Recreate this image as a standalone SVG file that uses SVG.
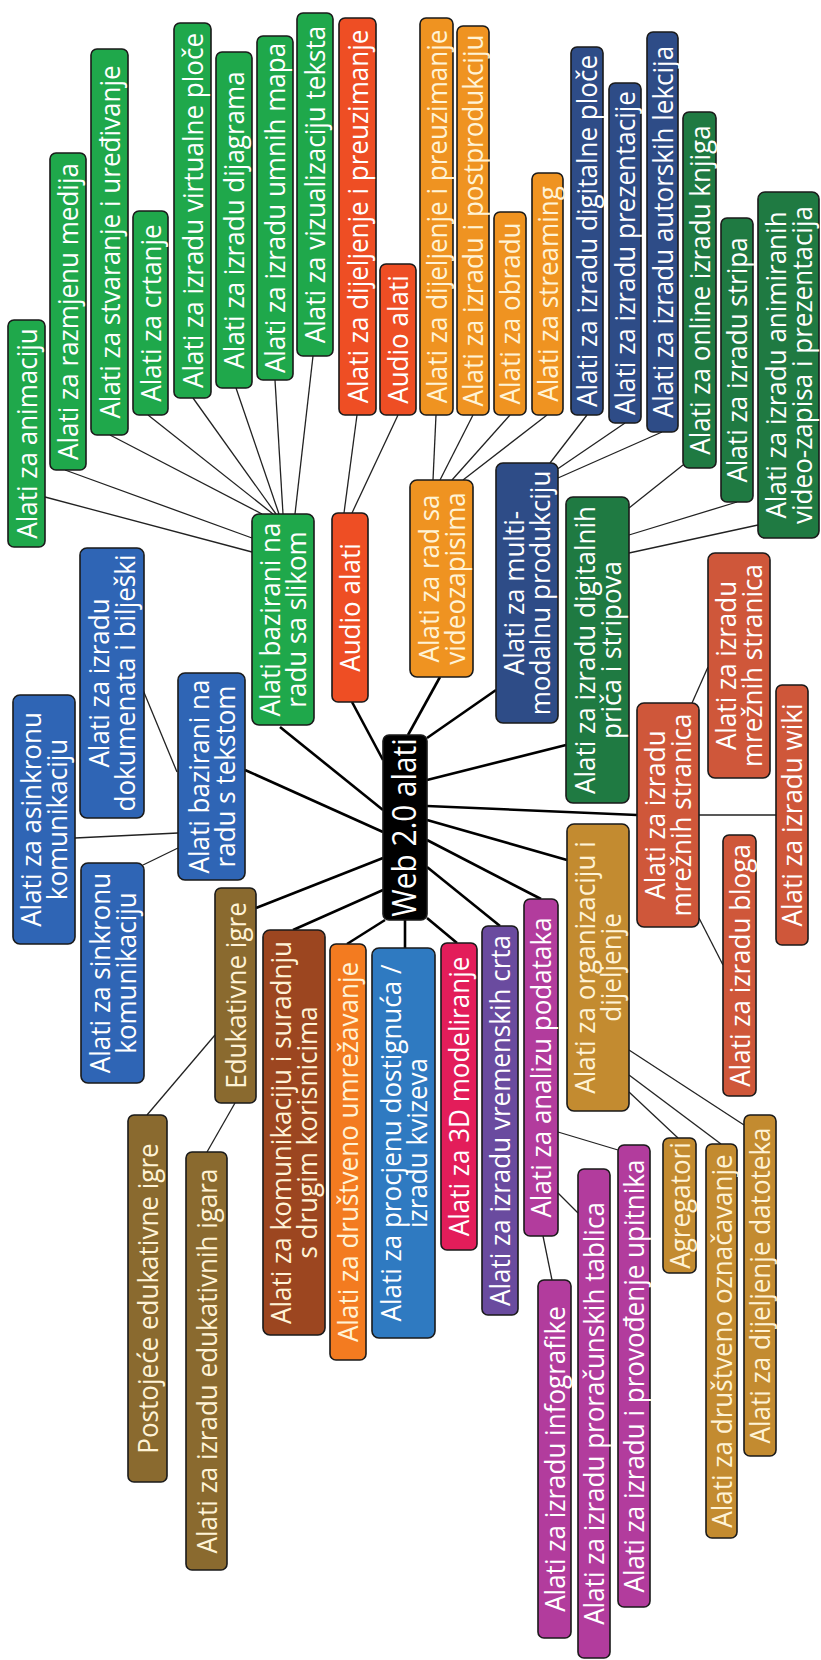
<svg xmlns="http://www.w3.org/2000/svg" width="821" height="1660" viewBox="0 0 821 1660">
<style>
rect{stroke:#1a1a1a;stroke-width:1.6}
text{font-family:"Open Sans","Noto Sans",sans-serif;font-size:28px;fill:#fff;text-anchor:middle}
.cr{fill:#fff3d6}
.g{fill:#1fa84b}.r{fill:#ee4e24}.o{fill:#ef9321}.nv{fill:#2e4c87}.dg{fill:#1f7a42}
.ru{fill:#cf573a}.gd{fill:#c38b30}.mg{fill:#b23c9d}.pu{fill:#6a4b9f}.pk{fill:#e31d5a}
.bl{fill:#2f7ac1}.or{fill:#f37b20}.br{fill:#9c4620}.ol{fill:#8a6a2f}.tb{fill:#2f65b5}.bk{fill:#000}
.m line{stroke:#000;stroke-width:2.6}
.s line{stroke:#222;stroke-width:1.3}
</style>
<g id="connectors">
<g class="m">
<line x1="383" y1="810" x2="280" y2="727"/>
<line x1="383" y1="832" x2="245" y2="770"/>
<line x1="383" y1="760" x2="352" y2="702"/>
<line x1="408" y1="735" x2="440" y2="677"/>
<line x1="427" y1="738" x2="496" y2="690"/>
<line x1="427" y1="780" x2="566" y2="745"/>
<line x1="427" y1="806" x2="637" y2="815"/>
<line x1="427" y1="820" x2="567" y2="860"/>
<line x1="427" y1="840" x2="541" y2="899"/>
<line x1="427" y1="867" x2="500" y2="926"/>
<line x1="427" y1="918" x2="457" y2="943"/>
<line x1="405" y1="920" x2="405" y2="948"/>
<line x1="385" y1="920" x2="347" y2="944"/>
<line x1="383" y1="890" x2="293" y2="930"/>
<line x1="383" y1="858" x2="256" y2="908"/>
</g>
<g class="s">
<line x1="45" y1="497" x2="252" y2="552"/>
<line x1="65" y1="470" x2="252" y2="538"/>
<line x1="110" y1="435" x2="262" y2="514"/>
<line x1="148" y1="415" x2="273" y2="514"/>
<line x1="193" y1="398" x2="276" y2="514"/>
<line x1="236" y1="388" x2="279" y2="514"/>
<line x1="275" y1="380" x2="283" y2="514"/>
<line x1="313" y1="356" x2="295" y2="514"/>
<line x1="357" y1="415" x2="344" y2="513"/>
<line x1="398" y1="415" x2="352" y2="513"/>
<line x1="436" y1="415" x2="433" y2="480"/>
<line x1="473" y1="415" x2="440" y2="480"/>
<line x1="510" y1="415" x2="452" y2="480"/>
<line x1="547" y1="415" x2="463" y2="480"/>
<line x1="587" y1="415" x2="550" y2="463"/>
<line x1="625" y1="423" x2="556" y2="470"/>
<line x1="662" y1="432" x2="558" y2="478"/>
<line x1="683" y1="465" x2="629" y2="508"/>
<line x1="737" y1="502" x2="629" y2="535"/>
<line x1="758" y1="525" x2="629" y2="553"/>
<line x1="692" y1="703" x2="708" y2="667"/>
<line x1="699" y1="815" x2="776" y2="815"/>
<line x1="699" y1="918" x2="723" y2="965"/>
<line x1="629" y1="1050" x2="744" y2="1125"/>
<line x1="629" y1="1075" x2="721" y2="1144"/>
<line x1="629" y1="1092" x2="678" y2="1138"/>
<line x1="558" y1="1132" x2="618" y2="1150"/>
<line x1="558" y1="1193" x2="578" y2="1213"/>
<line x1="543" y1="1236" x2="552" y2="1280"/>
<line x1="177" y1="772" x2="143" y2="690"/>
<line x1="178" y1="833" x2="75" y2="838"/>
<line x1="178" y1="848" x2="143" y2="865"/>
<line x1="215" y1="1035" x2="147" y2="1115"/>
<line x1="235" y1="1103" x2="207" y2="1152"/>
</g>
</g>

<g id="n_anim"><rect class="g" x="8" y="320" width="37" height="227" rx="6"/><text transform="translate(26.5,433.5) rotate(-90) scale(0.93,1)"><tspan x="0" y="10">Alati za animaciju</tspan></text></g>
<g id="n_razm"><rect class="g" x="50" y="153" width="36" height="317" rx="6"/><text transform="translate(68,311.5) rotate(-90) scale(0.93,1)"><tspan x="0" y="10">Alati za razmjenu medija</tspan></text></g>
<g id="n_stvar"><rect class="g" x="91" y="49" width="37" height="386" rx="6"/><text transform="translate(109.5,242) rotate(-90) scale(0.93,1)"><tspan x="0" y="10">Alati za stvaranje i uređivanje</tspan></text></g>
<g id="n_crt"><rect class="g" x="133" y="211" width="35" height="204" rx="6"/><text transform="translate(150.5,313) rotate(-90) scale(0.93,1)"><tspan x="0" y="10">Alati za crtanje</tspan></text></g>
<g id="n_virt"><rect class="g" x="174" y="23" width="37" height="375" rx="6"/><text transform="translate(192.5,210.5) rotate(-90) scale(0.93,1)"><tspan x="0" y="10">Alati za izradu virtualne ploče</tspan></text></g>
<g id="n_dijag"><rect class="g" x="216" y="52" width="36" height="336" rx="6"/><text transform="translate(234,220) rotate(-90) scale(0.93,1)"><tspan x="0" y="10">Alati za izradu dijagrama</tspan></text></g>
<g id="n_umne"><rect class="g" x="257" y="36" width="36" height="344" rx="6"/><text transform="translate(275,208) rotate(-90) scale(0.93,1)"><tspan x="0" y="10">Alati za izradu umnih mapa</tspan></text></g>
<g id="n_vizual"><rect class="g" x="297" y="13" width="36" height="343" rx="6"/><text transform="translate(315,184.5) rotate(-90) scale(0.93,1)"><tspan x="0" y="10">Alati za vizualizaciju teksta</tspan></text></g>
<g id="n_slika"><rect class="g" x="252" y="514" width="62" height="211" rx="7"/><text transform="translate(283,619.5) rotate(-90) scale(0.93,1)"><tspan x="0" y="-3">Alati bazirani na</tspan><tspan x="0" y="23">radu sa slikom</tspan></text></g>

<g id="n_audio_dij"><rect class="r" x="339" y="18" width="37" height="397" rx="6"/><text transform="translate(357.5,216.5) rotate(-90) scale(0.93,1)"><tspan x="0" y="10">Alati za dijeljenje i preuzimanje</tspan></text></g>
<g id="n_audio_al"><rect class="r" x="380" y="264" width="36" height="151" rx="6"/><text transform="translate(398,339.5) rotate(-90) scale(0.93,1)"><tspan x="0" y="10">Audio alati</tspan></text></g>
<g id="n_audio"><rect class="r" x="332" y="513" width="36" height="189" rx="6"/><text transform="translate(350,607.5) rotate(-90) scale(0.93,1)"><tspan x="0" y="10">Audio alati</tspan></text></g>

<g id="n_vid_dij"><rect class="o" x="420" y="18" width="33" height="397" rx="6"/><text class="cr" transform="translate(436.5,216.5) rotate(-90) scale(0.93,1)"><tspan x="0" y="10">Alati za dijeljenje i preuzimanje</tspan></text></g>
<g id="n_vid_post"><rect class="o" x="457" y="26" width="32" height="389" rx="6"/><text class="cr" transform="translate(473,220.5) rotate(-90) scale(0.93,1)"><tspan x="0" y="10">Alati za izradu i postprodukciju</tspan></text></g>
<g id="n_vid_obr"><rect class="o" x="494" y="212" width="32" height="203" rx="6"/><text class="cr" transform="translate(510,313.5) rotate(-90) scale(0.93,1)"><tspan x="0" y="10">Alati za obradu</tspan></text></g>
<g id="n_vid_str"><rect class="o" x="532" y="173" width="31" height="242" rx="6"/><text class="cr" transform="translate(547.5,294) rotate(-90) scale(0.93,1)"><tspan x="0" y="10">Alati za streaming</tspan></text></g>
<g id="n_video"><rect class="o" x="410" y="480" width="63" height="197" rx="7"/><text class="cr" transform="translate(441.5,578.5) rotate(-90) scale(0.93,1)"><tspan x="0" y="-3">Alati za rad sa</tspan><tspan x="0" y="23">videozapisima</tspan></text></g>

<g id="n_mm_ploce"><rect class="nv" x="571" y="47" width="32" height="368" rx="6"/><text transform="translate(587,231) rotate(-90) scale(0.93,1)"><tspan x="0" y="10">Alati za izradu digitalne ploče</tspan></text></g>
<g id="n_mm_prez"><rect class="nv" x="609" y="83" width="32" height="340" rx="6"/><text transform="translate(625,253) rotate(-90) scale(0.93,1)"><tspan x="0" y="10">Alati za izradu prezentacije</tspan></text></g>
<g id="n_mm_lek"><rect class="nv" x="647" y="32" width="31" height="400" rx="6"/><text transform="translate(662.5,232) rotate(-90) scale(0.93,1)"><tspan x="0" y="10">Alati za izradu autorskih lekcija</tspan></text></g>
<g id="n_multi"><rect class="nv" x="496" y="463" width="62" height="260" rx="7"/><text transform="translate(527,593) rotate(-90) scale(0.93,1)"><tspan x="0" y="-3">Alati za multi-</tspan><tspan x="0" y="23">modalnu produkciju</tspan></text></g>

<g id="n_knjiga"><rect class="dg" x="683" y="112" width="33" height="356" rx="6"/><text transform="translate(699.5,290) rotate(-90) scale(0.93,1)"><tspan x="0" y="10">Alati za online izradu knjiga</tspan></text></g>
<g id="n_stripa"><rect class="dg" x="721" y="218" width="32" height="284" rx="6"/><text transform="translate(737,360) rotate(-90) scale(0.93,1)"><tspan x="0" y="10">Alati za izradu stripa</tspan></text></g>
<g id="n_anim_vid"><rect class="dg" x="758" y="192" width="61" height="346" rx="7"/><text transform="translate(788.5,365) rotate(-90) scale(0.93,1)"><tspan x="0" y="-3">Alati za izradu animiranih</tspan><tspan x="0" y="23">video-zapisa i prezentacija</tspan></text></g>
<g id="n_price"><rect class="dg" x="566" y="497" width="63" height="306" rx="7"/><text transform="translate(597.5,650) rotate(-90) scale(0.93,1)"><tspan x="0" y="-3">Alati za izradu digitalnih</tspan><tspan x="0" y="23">priča i stripova</tspan></text></g>

<g id="n_web_child"><rect class="ru" x="708" y="553" width="62" height="225" rx="7"/><text transform="translate(739,665.5) rotate(-90) scale(0.93,1)"><tspan x="0" y="-3">Alati za izradu</tspan><tspan x="0" y="23">mrežnih stranica</tspan></text></g>
<g id="n_wiki"><rect class="ru" x="776" y="685" width="32" height="260" rx="6"/><text transform="translate(792,815) rotate(-90) scale(0.93,1)"><tspan x="0" y="10">Alati za izradu wiki</tspan></text></g>
<g id="n_web"><rect class="ru" x="637" y="703" width="62" height="224" rx="7"/><text transform="translate(668,815) rotate(-90) scale(0.93,1)"><tspan x="0" y="-3">Alati za izradu</tspan><tspan x="0" y="23">mrežnih stranica</tspan></text></g>
<g id="n_blog"><rect class="ru" x="723" y="835" width="33" height="261" rx="6"/><text transform="translate(739.5,965.5) rotate(-90) scale(0.93,1)"><tspan x="0" y="10">Alati za izradu bloga</tspan></text></g>

<g id="n_org"><rect class="gd" x="567" y="824" width="62" height="287" rx="7"/><text class="cr" transform="translate(598,967.5) rotate(-90) scale(0.93,1)"><tspan x="0" y="-3">Alati za organizaciju i</tspan><tspan x="0" y="23">dijeljenje</tspan></text></g>
<g id="n_agreg"><rect class="gd" x="663" y="1138" width="33" height="135" rx="6"/><text class="cr" transform="translate(679.5,1205.5) rotate(-90) scale(0.93,1)"><tspan x="0" y="10">Agregatori</tspan></text></g>
<g id="n_oznac"><rect class="gd" x="706" y="1144" width="31" height="394" rx="6"/><text class="cr" transform="translate(721.5,1341) rotate(-90) scale(0.93,1)"><tspan x="0" y="10">Alati za društveno označavanje</tspan></text></g>
<g id="n_datot"><rect class="gd" x="744" y="1115" width="32" height="341" rx="6"/><text class="cr" transform="translate(760,1285.5) rotate(-90) scale(0.93,1)"><tspan x="0" y="10">Alati za dijeljenje datoteka</tspan></text></g>

<g id="n_analiza"><rect class="mg" x="524" y="899" width="34" height="337" rx="6"/><text transform="translate(541,1067.5) rotate(-90) scale(0.93,1)"><tspan x="0" y="10">Alati za analizu podataka</tspan></text></g>
<g id="n_upit"><rect class="mg" x="618" y="1145" width="32" height="462" rx="6"/><text transform="translate(634,1376) rotate(-90) scale(0.93,1)"><tspan x="0" y="10">Alati za izradu i provođenje upitnika</tspan></text></g>
<g id="n_tabl"><rect class="mg" x="578" y="1169" width="32" height="489" rx="6"/><text transform="translate(594,1413.5) rotate(-90) scale(0.93,1)"><tspan x="0" y="10">Alati za izradu proračunskih tablica</tspan></text></g>
<g id="n_info"><rect class="mg" x="538" y="1280" width="33" height="358" rx="6"/><text transform="translate(554.5,1459) rotate(-90) scale(0.93,1)"><tspan x="0" y="10">Alati za izradu infografike</tspan></text></g>

<g id="n_vrem"><rect class="pu" x="482" y="926" width="36" height="389" rx="6"/><text transform="translate(500,1120.5) rotate(-90) scale(0.93,1)"><tspan x="0" y="10">Alati za izradu vremenskih crta</tspan></text></g>
<g id="n_3d"><rect class="pk" x="441" y="943" width="36" height="307" rx="6"/><text transform="translate(459,1096.5) rotate(-90) scale(0.93,1)"><tspan x="0" y="10">Alati za 3D modeliranje</tspan></text></g>
<g id="n_kviz"><rect class="bl" x="372" y="948" width="63" height="390" rx="7"/><text transform="translate(403.5,1143) rotate(-90) scale(0.93,1)"><tspan x="0" y="-3">Alati za procjenu dostignuća /</tspan><tspan x="0" y="23">izradu kvizeva</tspan></text></g>
<g id="n_drus"><rect class="or" x="330" y="944" width="36" height="416" rx="6"/><text class="cr" transform="translate(348,1152) rotate(-90) scale(0.93,1)"><tspan x="0" y="10">Alati za društveno umrežavanje</tspan></text></g>
<g id="n_kom"><rect class="br" x="263" y="930" width="62" height="405" rx="7"/><text class="cr" transform="translate(294,1132.5) rotate(-90) scale(0.93,1)"><tspan x="0" y="-3">Alati za komunikaciju i suradnju</tspan><tspan x="0" y="23">s drugim korisnicima</tspan></text></g>

<g id="n_edu"><rect class="ol" x="215" y="888" width="41" height="215" rx="6"/><text class="cr" transform="translate(235.5,995.5) rotate(-90) scale(0.93,1)"><tspan x="0" y="10">Edukativne igre</tspan></text></g>
<g id="n_post"><rect class="ol" x="128" y="1115" width="39" height="367" rx="6"/><text class="cr" transform="translate(147.5,1298.5) rotate(-90) scale(0.93,1)"><tspan x="0" y="10">Postojeće edukativne igre</tspan></text></g>
<g id="n_izr_igara"><rect class="ol" x="186" y="1152" width="41" height="418" rx="6"/><text class="cr" transform="translate(206.5,1361) rotate(-90) scale(0.93,1)"><tspan x="0" y="10">Alati za izradu edukativnih igara</tspan></text></g>

<g id="n_tekst"><rect class="tb" x="178" y="673" width="67" height="207" rx="7"/><text transform="translate(211.5,776.5) rotate(-90) scale(0.93,1)"><tspan x="0" y="-3">Alati bazirani na</tspan><tspan x="0" y="23">radu s tekstom</tspan></text></g>
<g id="n_dok"><rect class="tb" x="80" y="548" width="64" height="270" rx="7"/><text transform="translate(112,683) rotate(-90) scale(0.93,1)"><tspan x="0" y="-3">Alati za izradu</tspan><tspan x="0" y="23">dokumenata i bilješki</tspan></text></g>
<g id="n_asin"><rect class="tb" x="13" y="695" width="62" height="249" rx="7"/><text transform="translate(44,819.5) rotate(-90) scale(0.93,1)"><tspan x="0" y="-3">Alati za asinkronu</tspan><tspan x="0" y="23">komunikaciju</tspan></text></g>
<g id="n_sin"><rect class="tb" x="81" y="863" width="63" height="220" rx="7"/><text transform="translate(112.5,973) rotate(-90) scale(0.93,1)"><tspan x="0" y="-3">Alati za sinkronu</tspan><tspan x="0" y="23">komunikaciju</tspan></text></g>

<g id="n_center"><rect class="bk" x="383" y="735" width="44" height="185" rx="6"/><text style="font-size:32px" transform="translate(405,827.5) rotate(-90) scale(0.93,1)"><tspan x="0" y="11">Web 2.0 alati</tspan></text></g>
</svg>
